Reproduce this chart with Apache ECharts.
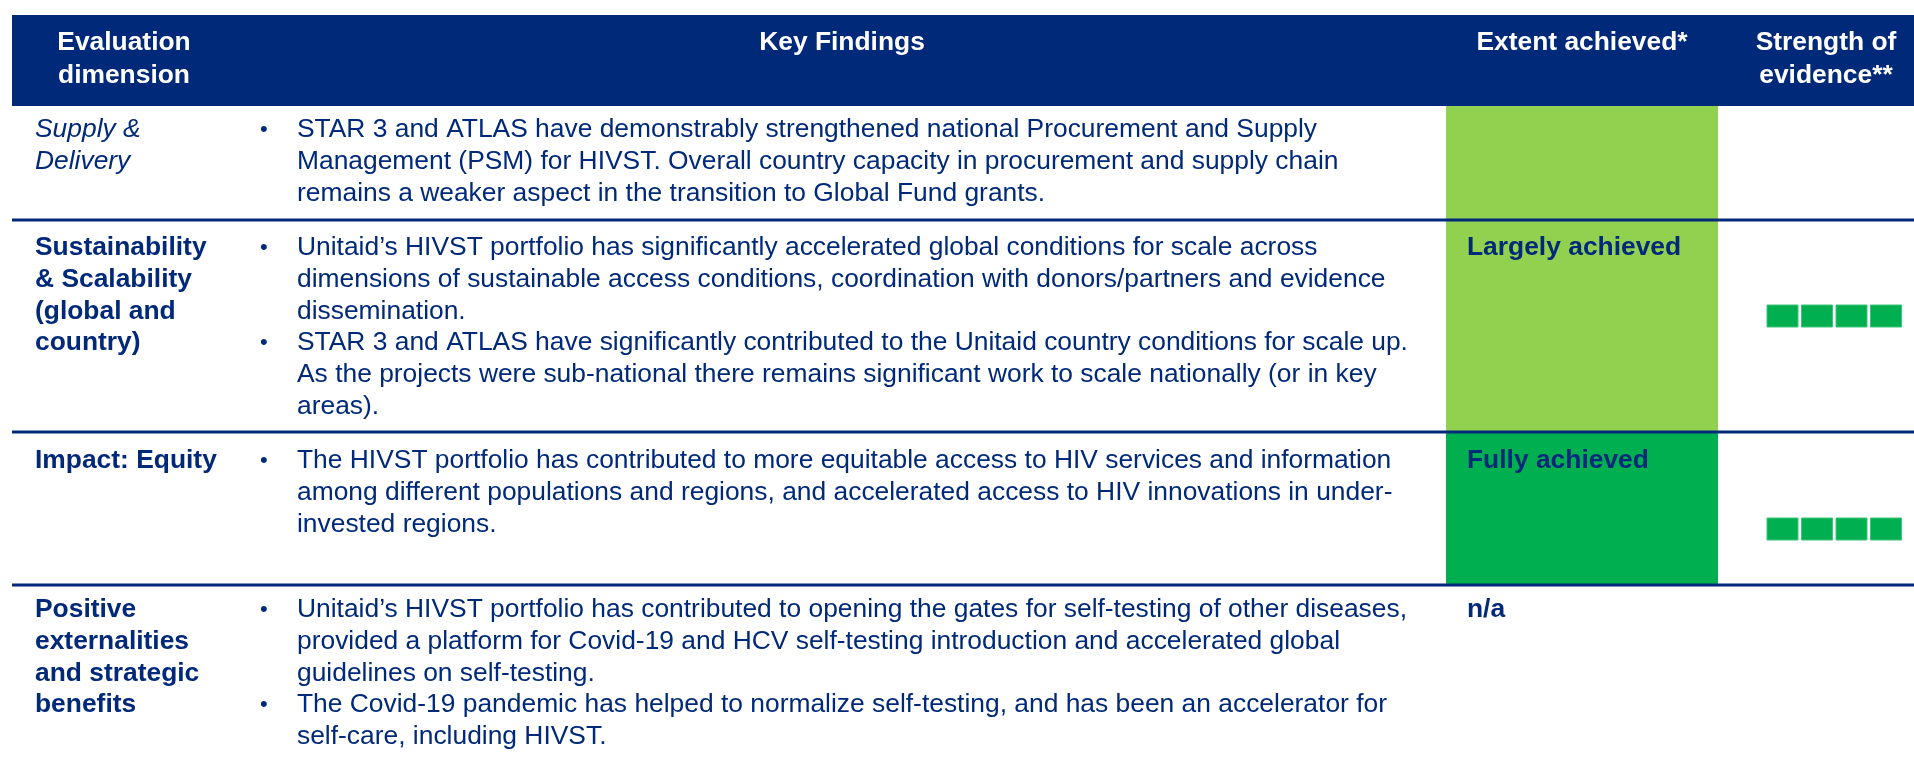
<!DOCTYPE html>
<html>
<head>
<meta charset="utf-8">
<title>HIVST portfolio evaluation summary</title>
<script src="https://cdn.jsdelivr.net/npm/echarts@6/dist/echarts.min.js"></script>
<style>
  html, body { margin: 0; padding: 0; background: #fff; }
  #chart { width: 1914px; height: 759px; }
</style>
</head>
<body>
<div id="chart"></div>
<script>
  // table content
  const headers = ['Evaluation\ndimension', 'Key Findings', 'Extent achieved*', 'Strength of\nevidence**']
  const dimensions = [
    'Supply &\nDelivery',
    'Sustainability\n& Scalability\n(global and\ncountry)',
    'Impact: Equity',
    'Positive\nexternalities\nand strategic\nbenefits'
  ]
  const dimensionItalic = [true, false, false, false]
  // one entry per bullet, each bullet broken into its lines
  const findings = [
    [[
      'STAR 3 and ATLAS have demonstrably strengthened national Procurement and Supply',
      'Management (PSM) for HIVST. Overall country capacity in procurement and supply chain',
      'remains a weaker aspect in the transition to Global Fund grants.'
    ]],
    [[
      'Unitaid’s HIVST portfolio has significantly accelerated global conditions for scale across',
      'dimensions of sustainable access conditions, coordination with donors/partners and evidence',
      'dissemination.'
    ], [
      'STAR 3 and ATLAS have significantly contributed to the Unitaid country conditions for scale up.',
      'As the projects were sub-national there remains significant work to scale nationally (or in key',
      'areas).'
    ]],
    [[
      'The HIVST portfolio has contributed to more equitable access to HIV services and information',
      'among different populations and regions, and accelerated access to HIV innovations in under-',
      'invested regions.'
    ]],
    [[
      'Unitaid’s HIVST portfolio has contributed to opening the gates for self-testing of other diseases,',
      'provided a platform for Covid-19 and HCV self-testing introduction and accelerated global',
      'guidelines on self-testing.'
    ], [
      'The Covid-19 pandemic has helped to normalize self-testing, and has been an accelerator for',
      'self-care, including HIVST.'
    ]]
  ]
  const extentLabels = ['', 'Largely achieved', 'Fully achieved', 'n/a']
  const extentLevels = ['largely', 'largely', 'fully', 'na']
  const evidenceBoxes = [0, 4, 4, 0]

  // layout and styles
  const NAVY = '#00297A'
  const FONT = 'Liberation Sans'
  const levelColors = { largely: '#92D050', fully: '#00B050', na: null }
  const tableLeft = 12
  const tableRight = 1914
  const headerTop = 15
  const headerBottom = 106
  const rowBottoms = [220, 432, 585, 759]
  const firstLineY = [130, 248, 461, 610]
  const boxCenterY = [0, 316, 529, 0]
  const headerCenters = [124, 842, 1582, 1826]
  const dimX = 35
  const bulletX = 260
  const textX = 297
  const extentLeft = 1446
  const extentRight = 1718
  const extentTextX = 1467
  const boxLeft = 1767
  const boxW = 31
  const boxPitch = 34.5
  const boxH = 22
  const LH = 31.7
  const FS = 26.4

  function txt (x, y, text, opts) {
    return {
      type: 'text', x: x, y: y,
      style: Object.assign({
        text: text, fill: NAVY, fontFamily: FONT, fontSize: FS,
        fontWeight: 'normal', fontStyle: 'normal',
        verticalAlign: 'top', lineHeight: LH
      }, opts || {})
    }
  }

  const chart = echarts.init(document.getElementById('chart'))
  const elements = []

  // header band
  elements.push({
    type: 'rect',
    shape: { x: tableLeft, y: headerTop, width: tableRight - tableLeft, height: headerBottom - headerTop },
    style: { fill: NAVY }
  })
  headers.forEach((h, i) => {
    elements.push(txt(headerCenters[i], 43 - 16.5, h, {
      fill: '#fff', fontWeight: 'bold', align: 'center', lineHeight: 33
    }))
  })

  // extent cells
  extentLevels.forEach((lvl, i) => {
    const c = levelColors[lvl]
    if (!c) return
    const top = i === 0 ? headerBottom : rowBottoms[i - 1]
    elements.push({
      type: 'rect',
      shape: { x: extentLeft, y: top, width: extentRight - extentLeft, height: rowBottoms[i] - top },
      style: { fill: c }
    })
  })

  // row separators
  rowBottoms.slice(0, 3).forEach(y => {
    elements.push({
      type: 'line',
      shape: { x1: tableLeft, y1: y, x2: tableRight, y2: y },
      style: { stroke: NAVY, lineWidth: 3 }
    })
  })

  dimensions.forEach((d, i) => {
    const top = firstLineY[i] - LH / 2
    elements.push(txt(dimX, top, d, dimensionItalic[i] ? { fontStyle: 'italic' } : { fontWeight: 'bold' }))

    let line = 0
    findings[i].forEach(lines => {
      const y = top + line * LH
      elements.push(txt(bulletX, y, '•', { fontSize: 22 }))
      elements.push(txt(textX, y, lines.join('\n')))
      line += lines.length
    })

    if (extentLabels[i]) {
      elements.push(txt(extentTextX, top, extentLabels[i], { fontWeight: 'bold' }))
    }

    for (let k = 0; k < evidenceBoxes[i]; k++) {
      elements.push({
        type: 'rect',
        shape: { x: boxLeft + k * boxPitch, y: boxCenterY[i] - boxH / 2, width: boxW, height: boxH },
        style: { fill: '#00B050', stroke: '#3DC47A', lineWidth: 1 }
      })
    }
  })

  chart.setOption({
    animation: false,
    graphic: { elements: elements }
  })
</script>
</body>
</html>
